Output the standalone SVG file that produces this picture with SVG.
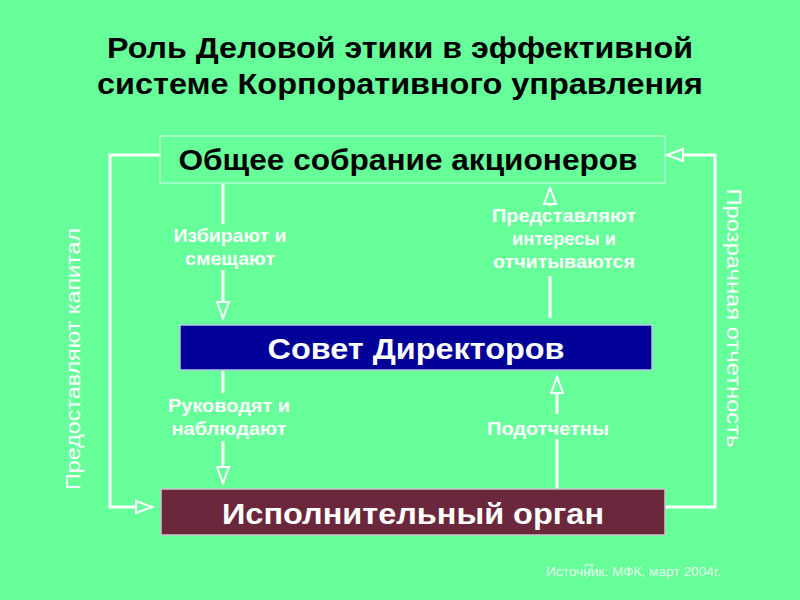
<svg xmlns="http://www.w3.org/2000/svg" width="800" height="600" viewBox="0 0 800 600">
<defs>
<style>
.title{font-family:"Liberation Sans",Arial,sans-serif;font-weight:bold;font-size:29px;fill:#000;text-anchor:middle}
.boxt{font-family:"Liberation Sans",Arial,sans-serif;font-weight:bold;font-size:29px;text-anchor:middle}
.lbl{font-family:"Liberation Sans",Arial,sans-serif;font-weight:bold;font-size:18px;fill:#fff;text-anchor:middle}
.side{font-family:"Liberation Sans",Arial,sans-serif;font-size:20px;fill:#fff;text-anchor:middle}
.conn{fill:none;stroke:#fff;stroke-width:3}
</style>
<marker id="arr" markerUnits="userSpaceOnUse" markerWidth="24" markerHeight="16" viewBox="-20 -8 24 16" refX="0" refY="0" orient="auto">
<path d="M0,0 L-16,-6 L-16,6 Z" fill="#66FF99" stroke="#fff" stroke-width="2" stroke-linejoin="miter"/>
</marker>
</defs>
<rect width="800" height="600" fill="#66FF99"/>
<g id="title">
<text class="title" x="400" y="58" textLength="586" lengthAdjust="spacingAndGlyphs">Роль Деловой этики в эффективной</text>
<text class="title" x="400" y="94" textLength="606" lengthAdjust="spacingAndGlyphs">системе Корпоративного управления</text>
</g>
<g id="connectors">
<polyline class="conn" points="160,155 110,155 110,507 152,507" marker-end="url(#arr)"/>
<polyline class="conn" points="665,507 715,507 715,155 667,155" marker-end="url(#arr)"/>
<line class="conn" x1="223" y1="184" x2="223" y2="224"/>
<line class="conn" x1="223" y1="270" x2="223" y2="318" marker-end="url(#arr)"/>
<line class="conn" x1="550" y1="318" x2="550" y2="276"/>
<line class="conn" x1="550" y1="206" x2="550" y2="188" marker-end="url(#arr)"/>
<line class="conn" x1="223" y1="371" x2="223" y2="393"/>
<line class="conn" x1="223" y1="441" x2="223" y2="483" marker-end="url(#arr)"/>
<line class="conn" x1="557" y1="489" x2="557" y2="439"/>
<line class="conn" x1="557" y1="414" x2="557" y2="377" marker-end="url(#arr)"/>
</g>
<g id="labels">
<text class="lbl" x="230" y="242" textLength="113" lengthAdjust="spacingAndGlyphs">Избирают и</text>
<text class="lbl" x="230" y="265" textLength="90" lengthAdjust="spacingAndGlyphs">смещают</text>
<text class="lbl" x="564" y="222" textLength="144" lengthAdjust="spacingAndGlyphs">Представляют</text>
<text class="lbl" x="564" y="245" textLength="104" lengthAdjust="spacingAndGlyphs">интересы и</text>
<text class="lbl" x="564" y="268" textLength="142" lengthAdjust="spacingAndGlyphs">отчитываются</text>
<text class="lbl" x="229" y="412" textLength="122" lengthAdjust="spacingAndGlyphs">Руководят и</text>
<text class="lbl" x="229" y="435" textLength="115" lengthAdjust="spacingAndGlyphs">наблюдают</text>
<text class="lbl" x="548" y="435" textLength="122" lengthAdjust="spacingAndGlyphs">Подотчетны</text>
<text class="side" transform="translate(80,359) rotate(-90)" textLength="262" lengthAdjust="spacingAndGlyphs">Предоставляют капитал</text>
<text class="side" transform="translate(727,318) rotate(90)" textLength="259" lengthAdjust="spacingAndGlyphs">Прозрачная отчетность</text>
</g>
<g id="node-shareholders">
<rect x="160" y="136" width="505" height="47" fill="#66FF99" stroke="#B3FFD0" stroke-width="1.5"/>
<text class="boxt" x="408" y="170" fill="#000" textLength="459" lengthAdjust="spacingAndGlyphs">Общее собрание акционеров</text>
</g>
<g id="node-board">
<rect x="180" y="325" width="472" height="45" fill="#000099" stroke="#B3C8E0" stroke-width="1.5"/>
<text class="boxt" x="416" y="359" fill="#fff" textLength="297" lengthAdjust="spacingAndGlyphs">Совет Директоров</text>
</g>
<g id="node-executive">
<rect x="161" y="489" width="504" height="46" fill="#6B283C" stroke="#C8C8C8" stroke-width="1.5"/>
<text class="boxt" x="413" y="524" fill="#fff" textLength="382" lengthAdjust="spacingAndGlyphs">Исполнительный орган</text>
</g>
<g id="footer">
<text x="546" y="576" font-family="'Liberation Sans',Arial,sans-serif" font-size="13" fill="#fff" fill-opacity="0.85" textLength="175" lengthAdjust="spacingAndGlyphs">Источник: МФК, март 2004г.</text>
<text x="583" y="578" font-family="'Liberation Serif','Times New Roman',serif" font-size="22" fill="#fff" fill-opacity="0.6">7</text>
</g>
</svg>
